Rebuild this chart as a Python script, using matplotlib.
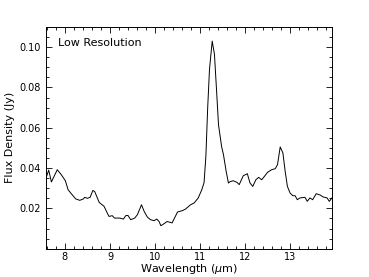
import matplotlib
matplotlib.use("Agg")
import matplotlib.pyplot as plt
from matplotlib.ticker import MultipleLocator

wavelength = [7.58, 7.64, 7.70, 7.83, 7.92, 8.01, 8.07, 8.13, 8.24, 8.33, 8.41, 8.44, 8.50,
              8.56, 8.62, 8.66, 8.72, 8.76, 8.87, 8.94, 8.98, 9.05, 9.10, 9.22, 9.30, 9.35,
              9.40, 9.46, 9.55, 9.61, 9.70, 9.76, 9.83, 9.90, 9.98, 10.04, 10.09, 10.13,
              10.20, 10.27, 10.38, 10.50, 10.61, 10.68, 10.79, 10.87, 10.96, 11.04, 11.09,
              11.13, 11.17, 11.21, 11.27, 11.32, 11.37, 11.41, 11.48, 11.52, 11.58, 11.63,
              11.67, 11.74, 11.82, 11.87, 11.96, 12.05, 12.11, 12.17, 12.24, 12.30, 12.37,
              12.50, 12.59, 12.67, 12.72, 12.78, 12.84, 12.89, 12.94, 13.00, 13.06, 13.11,
              13.16, 13.22, 13.33, 13.38, 13.44, 13.50, 13.58, 13.67, 13.73, 13.82, 13.87,
              13.93]
flux = [0.0350, 0.0390, 0.0331, 0.0392, 0.0367, 0.0337, 0.0293, 0.0276, 0.0247, 0.0240,
        0.0247, 0.0255, 0.0250, 0.0255, 0.0289, 0.0284, 0.0252, 0.0230, 0.0210, 0.0177,
        0.0160, 0.0164, 0.0152, 0.0152, 0.0147, 0.0164, 0.0165, 0.0144, 0.0152, 0.0169,
        0.0218, 0.0185, 0.0157, 0.0144, 0.0139, 0.0147, 0.0135, 0.0114, 0.0124, 0.0135,
        0.0128, 0.0182, 0.0189, 0.0197, 0.0218, 0.0227, 0.0252, 0.0293, 0.0329, 0.0460,
        0.0700, 0.0890, 0.1030, 0.0965, 0.0773, 0.0615, 0.0505, 0.0467, 0.0384, 0.0326,
        0.0333, 0.0337, 0.0329, 0.0318, 0.0362, 0.0372, 0.0326, 0.0309, 0.0342, 0.0354,
        0.0342, 0.0379, 0.0392, 0.0397, 0.0417, 0.0505, 0.0475, 0.0384, 0.0309, 0.0276,
        0.0263, 0.0263, 0.0243, 0.0252, 0.0255, 0.0235, 0.0252, 0.0243, 0.0273, 0.0266,
        0.0257, 0.0252, 0.0235, 0.0252]

xticks = [8, 9, 10, 11, 12, 13]
yticks = [0.02, 0.04, 0.06, 0.08, 0.10]
ytick_labels = ["0.02", "0.04", "0.06", "0.08", "0.10"]

fig = plt.figure(figsize=(3.69, 2.77), dpi=100)
ax = fig.add_axes([46/369, 1 - 248.7/277, (332-46)/369, (248.7-27)/277])
ax.plot(wavelength, flux, color="black", lw=0.7)
ax.set_xlim(7.58, 13.93)
ax.set_ylim(0.0, 0.11)
ax.set_xticks(xticks)
ax.set_yticks(yticks)
ax.set_yticklabels(ytick_labels)
ax.xaxis.set_minor_locator(MultipleLocator(0.2))
ax.yaxis.set_minor_locator(MultipleLocator(0.005))
ax.tick_params(which="both", direction="in", top=True, right=True, labelsize=7, width=0.6)
ax.tick_params(which="major", length=4)
ax.tick_params(which="minor", length=2)
ax.tick_params(axis="x", pad=2.5)
for s in ax.spines.values():
    s.set_linewidth(0.7)
ax.set_xlabel("Wavelength ($\\mu$m)", fontsize=8, labelpad=0)
ax.set_ylabel("Flux Density (Jy)", fontsize=8, labelpad=3)
ax.text(0.042, 0.926, "Low Resolution", transform=ax.transAxes, fontsize=8,
        va="center", ha="left")
fig.savefig("out.png", dpi=100)
